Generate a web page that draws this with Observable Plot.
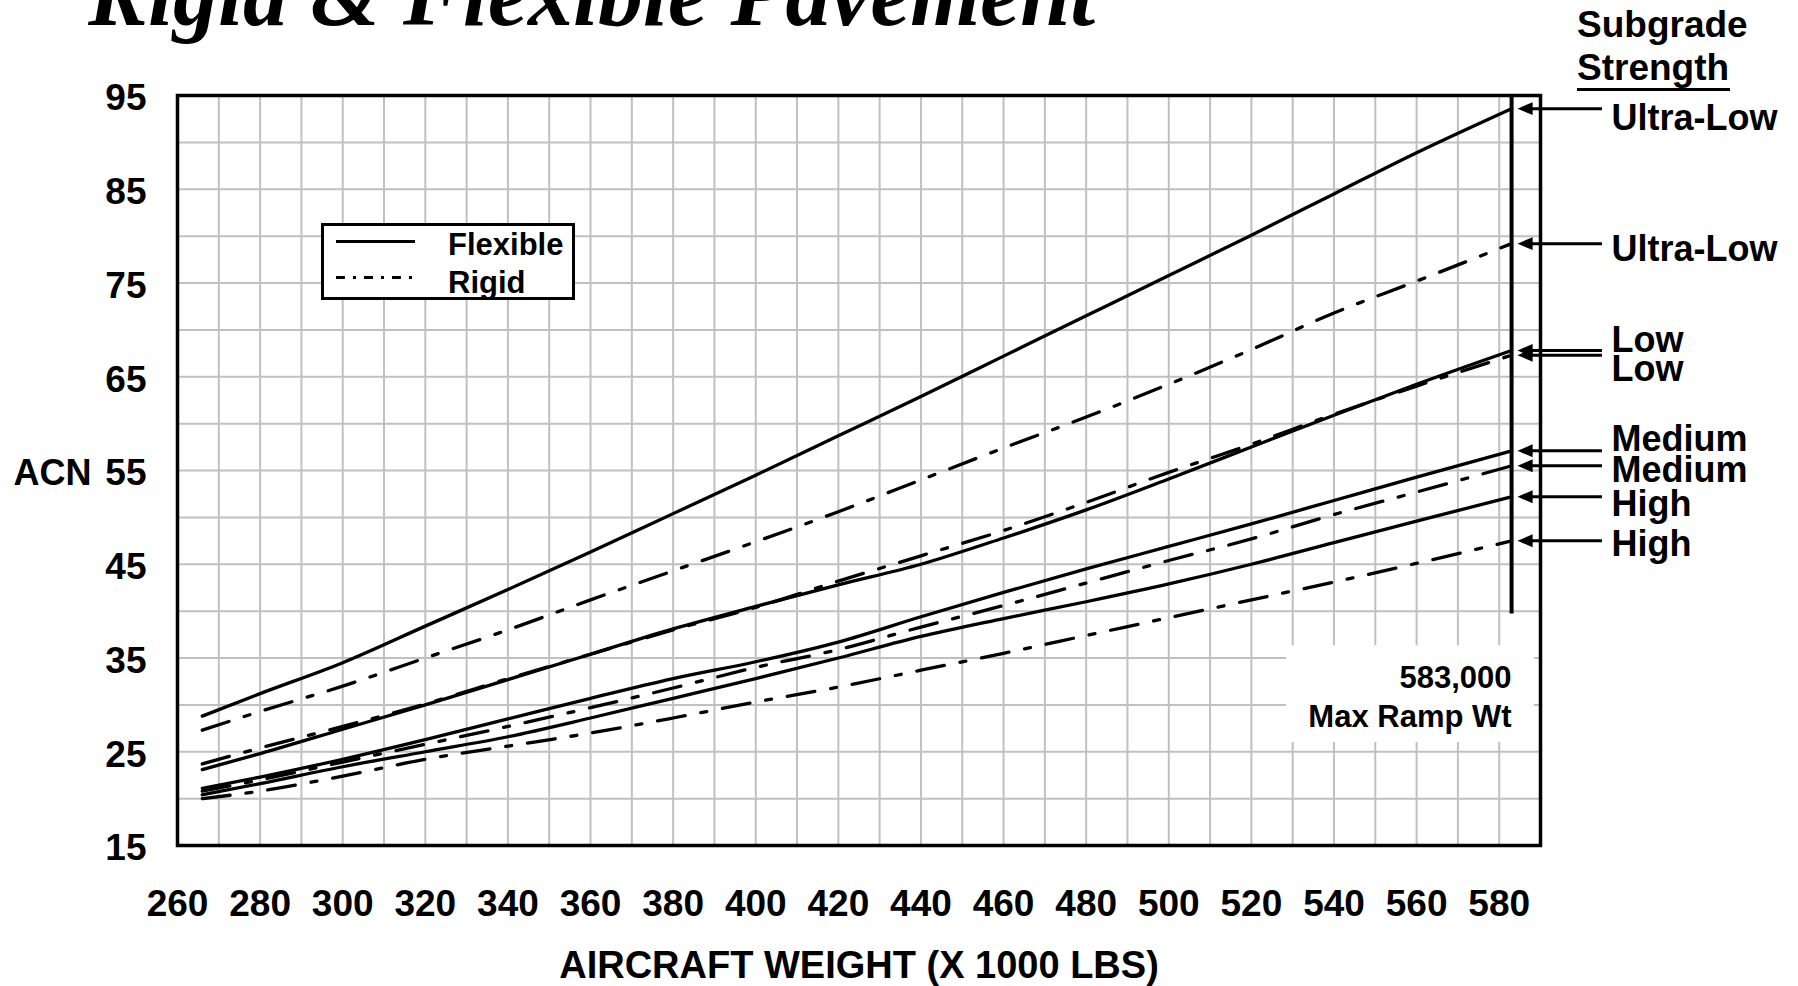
<!DOCTYPE html>
<html>
<head>
<meta charset="utf-8">
<script src="https://cdn.jsdelivr.net/npm/d3@7"></script>
<script src="https://cdn.jsdelivr.net/npm/@observablehq/plot@0.6"></script>
<style>
  html, body { margin: 0; padding: 0; background: #fff; }
  body { width: 1798px; height: 986px; position: relative; overflow: hidden; font-family: "Liberation Sans", Arial, sans-serif; color: #000; }
  #chart { position: absolute; left: 0; top: 0; }
  .title { position: absolute; left: 88px; top: -50px; font-family: "Liberation Serif", "Times New Roman", serif; font-weight: bold; font-style: italic; font-size: 90px; line-height: 90px; white-space: nowrap; }
  .subgrade { position: absolute; left: 1577px; top: 3px; font-weight: bold; font-size: 37px; line-height: 43px; white-space: nowrap; }
  .underline { position: absolute; left: 1577px; top: 88px; width: 153px; height: 3px; background: #000; }
  .legend { position: absolute; left: 321px; top: 223px; width: 254px; height: 77px; box-sizing: border-box; border: 3px solid #000; background: #fff; }
  .legend .sample { position: absolute; left: 12px; width: 79px; height: 2.5px; }
  .legend .solid { top: 14px; background: #000; }
  .legend .dashdot { top: 50px; background: repeating-linear-gradient(90deg, #000 0 9px, transparent 9px 17px, #000 17px 20px, transparent 20px 28px); }
  .legend .ltext { position: absolute; left: 124px; font-weight: bold; font-size: 31px; line-height: 31px; white-space: nowrap; }
</style>
</head>
<body>
<div id="chart"></div>
<div class="title">Rigid &amp; Flexible Pavement</div>
<div class="subgrade">Subgrade<br>Strength</div>
<div class="underline"></div>
<div class="legend">
  <div class="sample solid"></div>
  <div class="sample dashdot"></div>
  <div class="ltext" style="top:2.8px">Flexible</div>
  <div class="ltext" style="top:40.8px">Rigid</div>
</div>
<script>
// ---- data (aircraft weight in 1000 lbs, ACN) ----
const weights = [266, 280, 300, 320, 340, 360, 380, 400, 420, 440, 460, 480, 500, 520, 540, 560, 583];
const flexibleUltraLow = [28.8, 31.2, 34.5, 38.4, 42.3, 46.3, 50.4, 54.5, 58.7, 62.9, 67.2, 71.5, 75.8, 80.1, 84.5, 88.9, 93.6];
const rigidUltraLow    = [27.3, 29.3, 32.0, 35.0, 38.0, 41.2, 44.3, 47.4, 50.6, 54.0, 57.4, 60.7, 64.2, 67.9, 71.8, 75.2, 79.2];
const flexibleLow      = [23.1, 24.8, 27.4, 30.0, 32.7, 35.4, 38.1, 40.5, 42.8, 45.0, 47.8, 50.8, 54.1, 57.5, 60.9, 64.2, 67.8];
const rigidLow         = [23.7, 25.4, 27.7, 30.1, 32.8, 35.4, 38.0, 40.4, 43.2, 45.9, 48.6, 51.6, 54.8, 57.8, 61.0, 64.0, 67.3];
const flexibleMedium   = [21.1, 22.3, 24.2, 26.3, 28.5, 30.7, 32.8, 34.6, 36.7, 39.4, 42.0, 44.5, 46.9, 49.3, 51.8, 54.3, 57.1];
const rigidMedium      = [20.8, 22.0, 23.9, 25.8, 27.7, 29.7, 31.8, 34.0, 35.9, 38.3, 40.6, 43.0, 45.4, 47.7, 50.3, 52.7, 55.5];
const flexibleHigh     = [20.4, 21.6, 23.4, 25.0, 26.6, 28.6, 30.7, 32.8, 35.0, 37.3, 39.2, 41.0, 42.9, 45.0, 47.3, 49.6, 52.2];
const rigidHigh        = [20.0, 20.8, 22.4, 24.2, 25.6, 27.0, 28.6, 30.3, 31.9, 33.7, 35.5, 37.4, 39.3, 41.2, 43.1, 45.1, 47.5];

const pavements = ["Flexible", "Rigid", "Flexible", "Rigid", "Flexible", "Rigid", "Flexible", "Rigid"];
const subgrades = ["Ultra-Low", "Ultra-Low", "Low", "Low", "Medium", "Medium", "High", "High"];
const seriesValues = [flexibleUltraLow, rigidUltraLow, flexibleLow, rigidLow, flexibleMedium, rigidMedium, flexibleHigh, rigidHigh];

// tick labels and grid
const xTicks = [260, 280, 300, 320, 340, 360, 380, 400, 420, 440, 460, 480, 500, 520, 540, 560, 580];
const yTicks = [15, 25, 35, 45, 55, 65, 75, 85, 95];
const xDomain = [260, 590];
const yDomain = [15, 95];
const xGrid = d3.range(260, 591, 10);
const yGrid = d3.range(15, 96, 5);

// annotations
const maxRampWeight = 583;
const maxRampLines = ["583,000", "Max Ramp Wt"];
const maxRampLineAcn = [31.85, 27.69];
const maxRampBox = {x1: 528.5, x2: 588.5, y1: 26.0, y2: 36.3};
const maxRampRuleBottom = 39.7;
const labelBaselineAcn = [91.27, 77.4, 67.62, 64.53, 57.13, 53.75, 50.2, 45.93];
const arrowFrom = 588, arrowTo = 605, labelX = 607.2;
const yAxisTitle = {text: "ACN", acn: 55};
const xAxisTitle = "AIRCRAFT WEIGHT (X 1000 LBS)";

// ---- build tables ----
const rows = seriesValues.flatMap((vals, i) =>
  weights.map((w, j) => ({pavement: pavements[i], subgrade: subgrades[i], key: i, weight: w, acn: vals[j]})));
const ends = seriesValues.map((vals, i) => ({
  subgrade: subgrades[i], weight: weights[weights.length - 1], acn: vals[vals.length - 1], labelAcn: labelBaselineAcn[i]
}));
const maxRampRows = maxRampLines.map((t, i) => ({text: t, acn: maxRampLineAcn[i]}));

const leftTriangle = {
  draw(context, size) {
    const r = Math.sqrt(size / Math.PI);
    context.moveTo(-1.4 * r, 0);
    context.lineTo(1.4 * r, -1.2 * r);
    context.lineTo(1.4 * r, 1.2 * r);
    context.closePath();
  }
};

const gridStyle = {stroke: "#c0c0c0", strokeOpacity: 1, strokeWidth: 2};

const chart = Plot.plot({
  width: 1798,
  height: 986,
  marginLeft: 177,
  marginRight: 258,
  marginTop: 95,
  marginBottom: 141,
  style: {fontFamily: "'Liberation Sans', Arial, sans-serif", fontWeight: "bold", color: "#000", background: "transparent"},
  x: {domain: xDomain, label: null},
  y: {domain: yDomain, label: null},
  marks: [
    Plot.gridX({ticks: xGrid, ...gridStyle}),
    Plot.gridY({ticks: yGrid, ...gridStyle}),
    Plot.rect([maxRampBox], {x1: "x1", x2: "x2", y1: "y1", y2: "y2", fill: "white"}),
    Plot.line(rows.filter(d => d.pavement === "Flexible"), {x: "weight", y: "acn", z: "key", stroke: "black", strokeWidth: 3.3, curve: "monotone-x"}),
    Plot.line(rows.filter(d => d.pavement === "Rigid"), {x: "weight", y: "acn", z: "key", stroke: "black", strokeWidth: 3.3, strokeDasharray: "28,16,6,16", curve: "monotone-x"}),
    Plot.frame({stroke: "black", strokeWidth: 3.5}),
    Plot.ruleX([maxRampWeight], {y1: yDomain[1], y2: maxRampRuleBottom, stroke: "black", strokeWidth: 4}),
    Plot.ruleY(ends, {y: "acn", x1: arrowFrom, x2: arrowTo, stroke: "black", strokeWidth: 3}),
    Plot.dot(ends, {x: "weight", y: "acn", symbol: leftTriangle, r: 5.4, fill: "black", stroke: "none", dx: 13.5}),
    Plot.text(ends, {x: labelX, y: "labelAcn", text: "subgrade", textAnchor: "start", lineAnchor: "bottom", fontSize: 36, fontWeight: "bold", fill: "black"}),
    Plot.text(maxRampRows, {x: maxRampWeight, y: "acn", text: "text", textAnchor: "end", lineAnchor: "bottom", fontSize: 31, fontWeight: "bold", fill: "black"}),
    Plot.axisX({ticks: xTicks, tickSize: 0, tickPadding: 44, fontSize: 37, fontWeight: "bold", label: null}),
    Plot.axisY({ticks: yTicks, tickSize: 0, tickPadding: 31, fontSize: 37, fontWeight: "bold", dy: 3, label: null}),
    Plot.text([yAxisTitle], {text: "text", y: "acn", frameAnchor: "left", textAnchor: "end", dx: -86, dy: 3, fontSize: 36, fontWeight: "bold", fill: "black"}),
    Plot.text([xAxisTitle], {frameAnchor: "bottom", lineAnchor: "bottom", dy: 132, fontSize: 38, fontWeight: "bold", fill: "black"})
  ]
});
document.getElementById("chart").appendChild(chart);
</script>
</body>
</html>
